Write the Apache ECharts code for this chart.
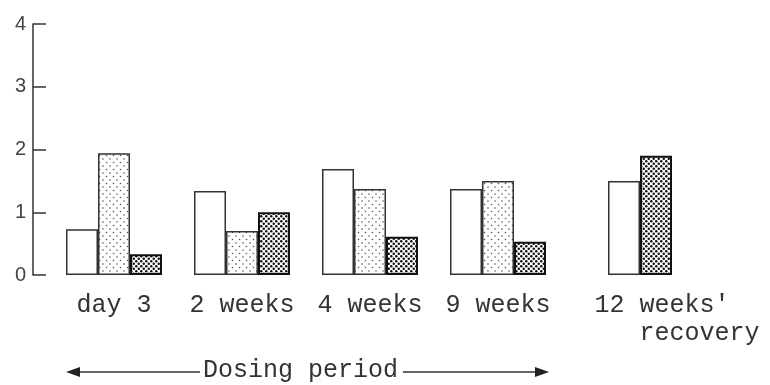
<!DOCTYPE html>
<html>
<head>
<meta charset="utf-8">
<script src="https://cdn.jsdelivr.net/npm/echarts@6/dist/echarts.min.js"></script>
<style>
  html, body { margin: 0; padding: 0; background: #ffffff; }
  #chart { width: 770px; height: 385px; }
</style>
</head>
<body>
<div id="chart"></div>
<script>
// ---- data ----
const dosingCategories = ['day 3', '2 weeks', '4 weeks', '9 weeks'];
const recoveryCategories = ["12 weeks'  \n   recovery"];
const whiteValues = [0.73, 1.34, 1.69, 1.37];
const lightValues = [1.94, 0.70, 1.37, 1.50];
const darkValues  = [0.33, 1.00, 0.61, 0.53];
const recoveryWhite = [1.50];
const recoveryDark  = [1.90];
const yMin = 0, yMax = 4, yStep = 1;
const footnote = 'Dosing period';

// ---- fill patterns ----
function makePattern(size, dots, r, color) {
  const c = document.createElement('canvas');
  c.width = size; c.height = size;
  const ctx = c.getContext('2d');
  ctx.fillStyle = '#ffffff';
  ctx.fillRect(0, 0, size, size);
  ctx.fillStyle = color;
  dots.forEach(function (d) {
    ctx.beginPath();
    ctx.arc(d[0], d[1], r, 0, Math.PI * 2);
    ctx.fill();
  });
  return { image: c, repeat: 'repeat' };
}
const lightFill = makePattern(7, [[1.5, 1.5], [5, 5]], 0.8, '#555');
const darkFill = makePattern(5, [[1.25, 1.25], [3.75, 3.75]], 1.25, '#111');

const FONT = '"Liberation Mono", "DejaVu Sans Mono", monospace';
const barW = 32;

const whiteStyle = { color: '#ffffff', borderColor: '#333', borderWidth: 1.5 };
const lightStyle = { color: lightFill, borderColor: '#333', borderWidth: 1.5 };
const darkStyle  = { color: darkFill, borderColor: '#111', borderWidth: 2 };

function bar(name, data, style, idx) {
  return {
    name: name, type: 'bar', data: data,
    xAxisIndex: idx, yAxisIndex: idx,
    barWidth: barW, barGap: '0%',
    itemStyle: style,
    emphasis: { disabled: true },
    silent: true,
    animation: false
  };
}

const chart = echarts.init(document.getElementById('chart'), null, { renderer: 'canvas' });

const xLabel = {
  interval: 0,
  fontFamily: FONT,
  fontSize: 25,
  color: '#333',
  margin: 16,
  lineHeight: 28
};

chart.setOption({
  animation: false,
  backgroundColor: '#ffffff',
  grid: [
    { left: 50, width: 512, top: 24, bottom: 110, containLabel: false },
    { left: 576, width: 128, top: 24, bottom: 110, containLabel: false }
  ],
  xAxis: [
    {
      type: 'category', gridIndex: 0, data: dosingCategories,
      axisLine: { show: false }, axisTick: { show: false },
      axisLabel: xLabel
    },
    {
      type: 'category', gridIndex: 1, data: recoveryCategories,
      axisLine: { show: false }, axisTick: { show: false },
      axisLabel: Object.assign({}, xLabel, { padding: [0, 0, 0, 74] })
    }
  ],
  yAxis: [
    {
      type: 'value', gridIndex: 0, min: yMin, max: yMax, interval: yStep,
      offset: 17,
      axisLine: { show: true, lineStyle: { color: '#333', width: 1.5 } },
      axisTick: { show: true, inside: true, length: 13, lineStyle: { color: '#333', width: 1.5 } },
      axisLabel: { fontFamily: '"Liberation Sans", Arial, sans-serif', fontSize: 20, color: '#444', margin: 7 },
      splitLine: { show: false }
    },
    {
      type: 'value', gridIndex: 1, min: yMin, max: yMax, interval: yStep,
      show: false, splitLine: { show: false }
    }
  ],
  series: [
    bar('control', whiteValues, whiteStyle, 0),
    bar('low', lightValues, lightStyle, 0),
    bar('high', darkValues, darkStyle, 0),
    bar('control', recoveryWhite, whiteStyle, 1),
    bar('high', recoveryDark, darkStyle, 1)
  ],
  graphic: [
    {
      type: 'text', left: 203, top: 358,
      style: { text: footnote, font: '25px ' + FONT, fill: '#333' }
    },
    { type: 'line', shape: { x1: 78, y1: 372, x2: 200, y2: 372 }, style: { stroke: '#333', lineWidth: 1.5 } },
    { type: 'polygon', shape: { points: [[66, 372], [80, 367], [80, 377]] }, style: { fill: '#222' } },
    { type: 'line', shape: { x1: 403, y1: 372, x2: 537, y2: 372 }, style: { stroke: '#333', lineWidth: 1.5 } },
    { type: 'polygon', shape: { points: [[549, 372], [535, 367], [535, 377]] }, style: { fill: '#222' } }
  ]
});
</script>
</body>
</html>
